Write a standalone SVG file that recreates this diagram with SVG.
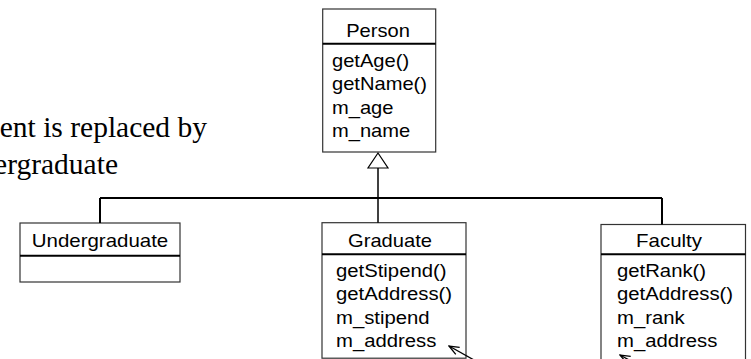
<svg xmlns="http://www.w3.org/2000/svg" width="751" height="359" viewBox="0 0 751 359">
<style>
.box{fill:#fff;stroke:#333;stroke-width:1.2}
.div{stroke:#000;stroke-width:2}
.t{font-family:"Liberation Sans",Arial,sans-serif;font-size:17.5px;fill:#000}
.c{text-anchor:middle}
.serif{font-family:"Liberation Serif","Times New Roman",serif;font-size:29.5px;fill:#000;text-anchor:end}
.conn{stroke:#000;fill:none}
</style>
<defs>
<marker id="open" viewBox="0 0 12 10" refX="11" refY="5" markerWidth="12" markerHeight="10" markerUnits="userSpaceOnUse" orient="auto">
<path d="M1,1 L11,5 L1,9" fill="none" stroke="#000" stroke-width="1.3"/>
</marker>
</defs>
<rect width="751" height="359" fill="#fff"/>
<g id="caption">
<text class="serif" x="207" y="137">ent is replaced by</text>
<text class="serif" x="118" y="174">ergraduate</text>
</g>
<g id="person">
<rect class="box" x="322.7" y="9" width="113" height="143"/>
<line class="div" x1="322.7" y1="43.7" x2="435.7" y2="43.7"/>
<text class="t c" transform="translate(378,37) scale(1.15,1)">Person</text>
<g transform="translate(332,0) scale(1.15,1)">
<text class="t" x="0" y="67">getAge()</text>
<text class="t" x="0" y="90.5">getName()</text>
<text class="t" x="0" y="114">m_age</text>
<text class="t" x="0" y="137.5">m_name</text>
</g>
</g>
<g id="undergraduate">
<rect class="box" x="20" y="223" width="160" height="59"/>
<line class="div" x1="20" y1="255.7" x2="180" y2="255.7"/>
<text class="t c" transform="translate(100,247) scale(1.17,1)">Undergraduate</text>
</g>
<g id="graduate">
<rect class="box" x="322" y="222.7" width="144" height="135.5"/>
<line class="div" x1="322" y1="254.3" x2="466" y2="254.3"/>
<text class="t c" transform="translate(390,247) scale(1.15,1)">Graduate</text>
<g transform="translate(336,0) scale(1.16,1)">
<text class="t" x="0" y="277">getStipend()</text>
<text class="t" x="0" y="300.5">getAddress()</text>
<text class="t" x="0" y="324">m_stipend</text>
<text class="t" x="0" y="347.5">m_address</text>
</g>
</g>
<g id="faculty">
<rect class="box" x="601" y="224.5" width="144.5" height="145"/>
<line class="div" x1="601" y1="254.3" x2="745.5" y2="254.3"/>
<text class="t c" transform="translate(669,247) scale(1.17,1)">Faculty</text>
<g transform="translate(617,0) scale(1.16,1)">
<text class="t" x="0" y="277">getRank()</text>
<text class="t" x="0" y="300.5">getAddress()</text>
<text class="t" x="0" y="324">m_rank</text>
<text class="t" x="0" y="347.5">m_address</text>
</g>
</g>
<g id="connectors">
<line class="conn" x1="100" y1="198" x2="662" y2="198" stroke-width="2"/>
<line class="conn" x1="378" y1="168" x2="378" y2="198" stroke-width="1.5"/>
<line class="conn" x1="100" y1="198" x2="100" y2="223" stroke-width="2"/>
<line class="conn" x1="378" y1="198" x2="378" y2="222.7" stroke-width="1.5"/>
<line class="conn" x1="662" y1="198" x2="662" y2="224.5" stroke-width="2"/>
<polygon points="378,153 368,168 388,168" fill="#fff" stroke="#000" stroke-width="1.2"/>
<line class="conn" x1="474" y1="360" x2="449" y2="346" stroke-width="1.3" marker-end="url(#open)"/>
<line class="conn" x1="642" y1="367" x2="620" y2="355" stroke-width="1.3" marker-end="url(#open)"/>
</g>
</svg>
